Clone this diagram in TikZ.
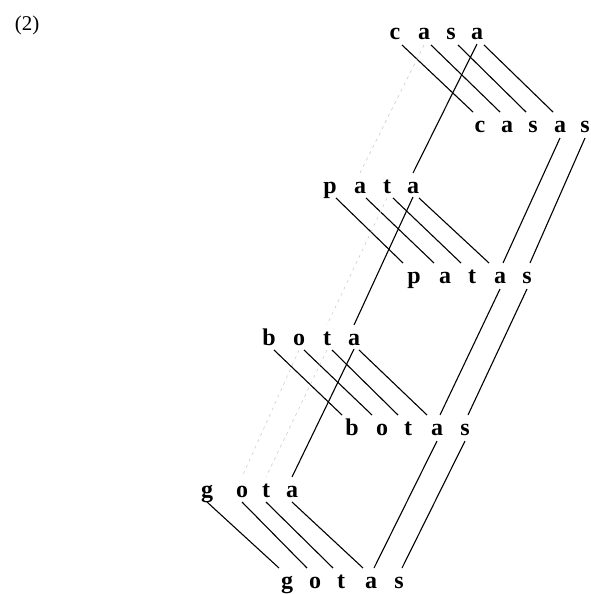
\documentclass[tikz,border=0pt]{standalone}
\usepackage{fontspec}
\setmainfont{Liberation Serif}
\begin{document}
\begin{tikzpicture}[x=1pt,y=-1pt,
  ltr/.style={inner sep=0pt,anchor=base,font=\fontsize{24}{24}\selectfont\bfseries},
  link/.style={line width=1.1pt,black},
  faint/.style={line width=0.5pt,gray!45,dash pattern=on 3pt off 4pt}]
\useasboundingbox (0,0) rectangle (590,594);

\node[inner sep=0pt,font=\fontsize{21}{21}\selectfont] (num) at (27,25) {(2)};

% singular and plural forms, one node per letter
\node[ltr] (casa1) at (395,40) {c};
\node[ltr] (casa2) at (424,40) {a};
\node[ltr] (casa3) at (451,40) {s};
\node[ltr] (casa4) at (477,40) {a};

\node[ltr] (casas1) at (480,132) {c};
\node[ltr] (casas2) at (507,132) {a};
\node[ltr] (casas3) at (533,132) {s};
\node[ltr] (casas4) at (560,132) {a};
\node[ltr] (casas5) at (585,132) {s};

\node[ltr] (pata1) at (330,193) {p};
\node[ltr] (pata2) at (360,193) {a};
\node[ltr] (pata3) at (387,193) {t};
\node[ltr] (pata4) at (413,193) {a};

\node[ltr] (patas1) at (414,283) {p};
\node[ltr] (patas2) at (445,283) {a};
\node[ltr] (patas3) at (472,283) {t};
\node[ltr] (patas4) at (500,283) {a};
\node[ltr] (patas5) at (527,283) {s};

\node[ltr] (bota1) at (269,345) {b};
\node[ltr] (bota2) at (299,345) {o};
\node[ltr] (bota3) at (327,345) {t};
\node[ltr] (bota4) at (354,345) {a};

\node[ltr] (botas1) at (352,435) {b};
\node[ltr] (botas2) at (382,435) {o};
\node[ltr] (botas3) at (408,435) {t};
\node[ltr] (botas4) at (437,435) {a};
\node[ltr] (botas5) at (465,435) {s};

\node[ltr] (gota1) at (207,497) {g};
\node[ltr] (gota2) at (242,497) {o};
\node[ltr] (gota3) at (266,497) {t};
\node[ltr] (gota4) at (292,497) {a};

\node[ltr] (gotas1) at (287,588) {g};
\node[ltr] (gotas2) at (315,588) {o};
\node[ltr] (gotas3) at (341,588) {t};
\node[ltr] (gotas4) at (371,588) {a};
\node[ltr] (gotas5) at (399,588) {s};

% each letter of a stem to the same letter of its plural
\foreach \s/\p/\dx/\ex in {casa/casas/7/-7,pata/patas/6/-11,bota/botas/5/-10,gota/gotas/0/-8}
  \foreach \i in {1,2,3,4}
    \draw[link] ([shift={(\dx,5)}]\s\i.base) -- ([shift={(\ex,-20)}]\p\i.base);

% shared final a between the stems
\foreach \a/\b in {casa/pata,pata/bota,bota/gota}
  \draw[link] ([shift={(0,4)}]\a4.base) -- ([shift={(0,-20)}]\b4.base);

% shared -as between the plurals
\foreach \a/\b in {casas/patas,patas/botas,botas/gotas}
  \foreach \i in {4,5}
    \draw[link] ([shift={(0,6)}]\a\i.base) -- ([shift={(3,-20)}]\b\i.base);

% faint links between other shared letters
\draw[faint] ([shift={(0,5)}]casa2.base) -- ([shift={(0,-20)}]pata2.base);
\draw[faint] ([shift={(0,5)}]pata3.base) -- ([shift={(0,-20)}]bota3.base);
\draw[faint] ([shift={(0,5)}]bota2.base) -- ([shift={(0,-20)}]gota2.base);
\draw[faint] ([shift={(0,5)}]bota3.base) -- ([shift={(0,-20)}]gota3.base);
\end{tikzpicture}
\end{document}
